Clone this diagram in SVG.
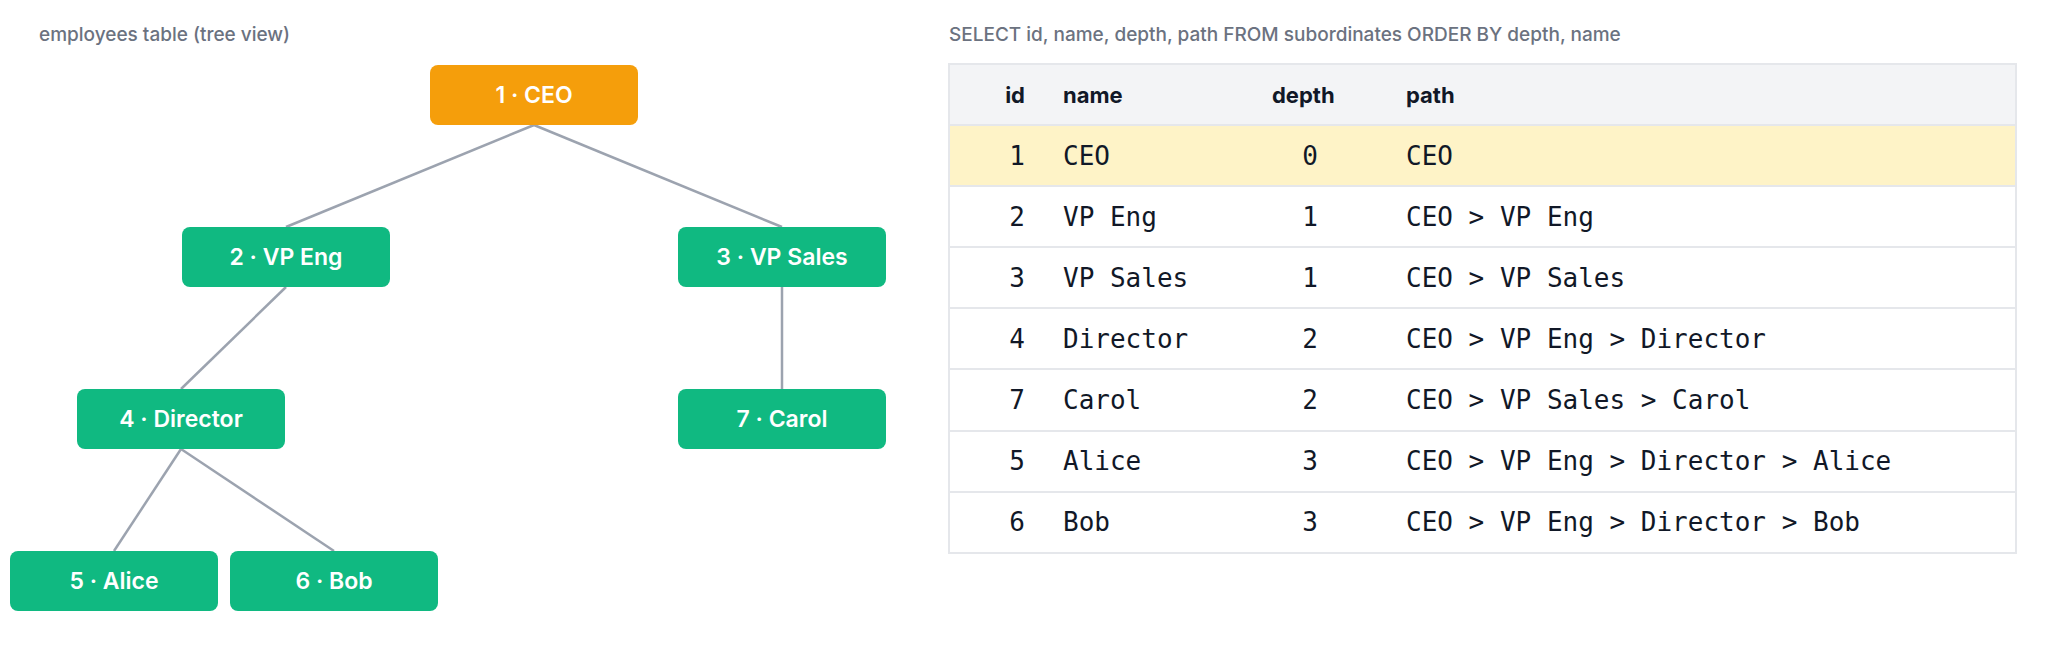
<svg xmlns="http://www.w3.org/2000/svg" width="2048" height="664" viewBox="0 0 2048 664">
<style>
.t{font-family:"Inter","Liberation Sans",sans-serif;font-size:19px;fill:#6b7280;font-weight:500}
.n rect{fill:#10b981}
.n text{font-family:"Inter","Liberation Sans",sans-serif;font-size:23px;font-weight:600;fill:#fff;text-anchor:middle}
.e line{stroke:#9ca3af;stroke-width:2.5}
.h{font-family:"Inter","Liberation Sans",sans-serif;font-size:22px;font-weight:700;fill:#111827}
.m{font-family:"DejaVu Sans Mono","Liberation Mono",monospace;font-size:26px;fill:#111827}
.r{text-anchor:end}
.c{text-anchor:middle}
.g{stroke:#e5e7eb;stroke-width:2}
</style>
<rect width="2048" height="664" fill="#fff"/>
<text class="t" x="39" y="41">employees table (tree view)</text>
<g class="e" id="connectors">
<line x1="534" y1="125" x2="286" y2="227"/>
<line x1="534" y1="125" x2="782" y2="227"/>
<line x1="286" y1="287" x2="181" y2="389"/>
<line x1="782" y1="287" x2="782" y2="389"/>
<line x1="181" y1="449" x2="114" y2="551"/>
<line x1="181" y1="449" x2="334" y2="551"/>
</g>
<g class="n" id="n1"><rect x="430" y="65" width="208" height="60" rx="8" style="fill:#f59e0b"/><text x="534" y="103">1 · CEO</text></g>
<g class="n" id="n2"><rect x="182" y="227" width="208" height="60" rx="8"/><text x="286" y="265">2 · VP Eng</text></g>
<g class="n" id="n3"><rect x="678" y="227" width="208" height="60" rx="8"/><text x="782" y="265">3 · VP Sales</text></g>
<g class="n" id="n4"><rect x="77" y="389" width="208" height="60" rx="8"/><text x="181" y="427">4 · Director</text></g>
<g class="n" id="n7"><rect x="678" y="389" width="208" height="60" rx="8"/><text x="782" y="427">7 · Carol</text></g>
<g class="n" id="n5"><rect x="10" y="551" width="208" height="60" rx="8"/><text x="114" y="589">5 · Alice</text></g>
<g class="n" id="n6"><rect x="230" y="551" width="208" height="60" rx="8"/><text x="334" y="589">6 · Bob</text></g>
<g id="table">
<text class="t" x="949" y="41">SELECT id, name, depth, path FROM subordinates ORDER BY depth, name</text>
<rect x="949" y="64" width="1067" height="489" fill="#fff" class="g"/>
<rect x="950" y="65" width="1065" height="60" fill="#f3f4f6"/>
<rect x="950" y="126" width="1065" height="60" fill="#fef3c7"/>
<line class="g" x1="949" y1="125" x2="2016" y2="125"/>
<line class="g" x1="949" y1="186" x2="2016" y2="186"/>
<line class="g" x1="949" y1="247" x2="2016" y2="247"/>
<line class="g" x1="949" y1="308" x2="2016" y2="308"/>
<line class="g" x1="949" y1="369" x2="2016" y2="369"/>
<line class="g" x1="949" y1="431" x2="2016" y2="431"/>
<line class="g" x1="949" y1="492" x2="2016" y2="492"/>
<text class="h r" x="1025" y="103">id</text>
<text class="h" x="1063" y="103">name</text>
<text class="h" x="1272" y="103">depth</text>
<text class="h" x="1406" y="103">path</text>
<g class="m">
<text class="r" x="1025" y="165">1</text><text x="1063" y="165">CEO</text><text class="c" x="1310" y="165">0</text><text x="1406" y="165">CEO</text>
<text class="r" x="1025" y="226">2</text><text x="1063" y="226">VP Eng</text><text class="c" x="1310" y="226">1</text><text x="1406" y="226">CEO &gt; VP Eng</text>
<text class="r" x="1025" y="287">3</text><text x="1063" y="287">VP Sales</text><text class="c" x="1310" y="287">1</text><text x="1406" y="287">CEO &gt; VP Sales</text>
<text class="r" x="1025" y="348">4</text><text x="1063" y="348">Director</text><text class="c" x="1310" y="348">2</text><text x="1406" y="348">CEO &gt; VP Eng &gt; Director</text>
<text class="r" x="1025" y="409">7</text><text x="1063" y="409">Carol</text><text class="c" x="1310" y="409">2</text><text x="1406" y="409">CEO &gt; VP Sales &gt; Carol</text>
<text class="r" x="1025" y="470">5</text><text x="1063" y="470">Alice</text><text class="c" x="1310" y="470">3</text><text x="1406" y="470">CEO &gt; VP Eng &gt; Director &gt; Alice</text>
<text class="r" x="1025" y="531">6</text><text x="1063" y="531">Bob</text><text class="c" x="1310" y="531">3</text><text x="1406" y="531">CEO &gt; VP Eng &gt; Director &gt; Bob</text>
</g>
</g>
</svg>
